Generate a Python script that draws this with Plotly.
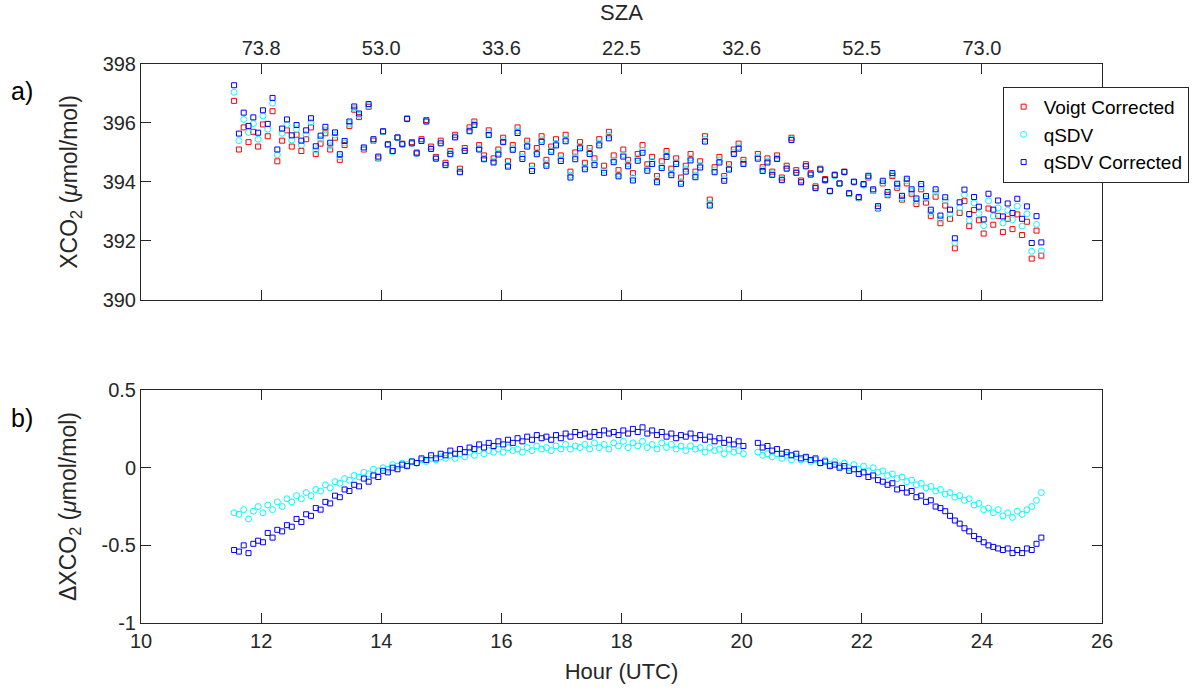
import plotly.graph_objects as go

hours = [
    11.55, 11.63, 11.71, 11.79, 11.87, 11.95, 12.03, 12.11, 12.19, 12.27,
    12.35, 12.43, 12.51, 12.59, 12.67, 12.75, 12.83, 12.91, 12.99, 13.07,
    13.15, 13.23, 13.31, 13.39, 13.47, 13.55, 13.63, 13.71, 13.79, 13.87,
    13.95, 14.03, 14.11, 14.19, 14.27, 14.35, 14.43, 14.51, 14.59, 14.67,
    14.75, 14.83, 14.91, 14.99, 15.07, 15.15, 15.23, 15.31, 15.39, 15.47,
    15.55, 15.63, 15.71, 15.79, 15.87, 15.95, 16.03, 16.11, 16.19, 16.27,
    16.35, 16.43, 16.51, 16.59, 16.67, 16.75, 16.83, 16.91, 16.99, 17.07,
    17.15, 17.23, 17.31, 17.39, 17.47, 17.55, 17.63, 17.71, 17.79, 17.87,
    17.95, 18.03, 18.11, 18.19, 18.27, 18.35, 18.43, 18.51, 18.59, 18.67,
    18.75, 18.83, 18.91, 18.99, 19.07, 19.15, 19.23, 19.31, 19.39, 19.47,
    19.55, 19.63, 19.71, 19.79, 19.87, 19.95, 20.03, 20.27, 20.35,
    20.43, 20.51, 20.59, 20.67, 20.75, 20.83, 20.91, 20.99, 21.07, 21.15,
    21.23, 21.31, 21.39, 21.47, 21.55, 21.63, 21.71, 21.79, 21.87, 21.95,
    22.03, 22.11, 22.19, 22.27, 22.35, 22.43, 22.51, 22.59, 22.67, 22.75,
    22.83, 22.91, 22.99, 23.07, 23.15, 23.23, 23.31, 23.39, 23.47, 23.55,
    23.63, 23.71, 23.79, 23.87, 23.95, 24.03, 24.11, 24.19, 24.27, 24.35,
    24.43, 24.51, 24.59, 24.67, 24.75, 24.83, 24.91, 24.99,
]

voigt_corrected = [
    396.75, 395.10, 395.85, 395.35, 395.70, 395.20, 395.95, 395.55, 396.40, 394.70,
    395.40, 395.75, 395.20, 395.60, 395.05, 395.45, 395.85, 394.95, 395.30, 395.65,
    395.10, 395.50, 394.75, 395.25, 395.90, 396.45, 396.20, 395.10, 396.55, 395.40,
    394.80, 395.70, 395.25, 395.05, 395.50, 395.30, 396.15, 395.35, 395.00, 395.45,
    396.10, 395.20, 394.85, 395.40, 394.65, 395.05, 395.60, 394.45, 395.15, 395.85,
    396.05, 395.25, 394.90, 395.75, 394.80, 395.10, 395.50, 394.70, 395.25, 395.85,
    394.95, 395.40, 394.55, 395.15, 395.55, 394.75, 395.20, 395.45, 394.90, 395.60,
    394.35, 395.00, 395.35, 394.65, 395.15, 394.80, 395.45, 394.55, 395.70, 394.90,
    394.40, 395.10, 394.75, 394.30, 394.95, 395.25, 394.60, 394.85, 394.20, 394.70,
    395.05, 394.45, 394.80, 394.15, 394.55, 394.95, 394.35, 394.70, 395.55, 393.40,
    394.50, 394.85, 394.20, 394.60, 395.10, 395.30, 394.75, 394.95, 394.50,
    394.80, 394.35, 394.90, 394.15, 394.55, 395.50, 394.40, 394.05, 394.60, 394.30,
    393.85, 394.45, 394.10, 393.70, 394.25, 393.95, 394.35, 393.60, 394.00, 393.45,
    393.90, 394.15, 393.70, 393.10, 393.95, 393.55, 394.20, 393.80, 393.40, 393.95,
    393.60, 393.25, 393.75, 393.30, 392.85, 393.50, 392.60, 393.20, 392.75, 391.75,
    392.95, 393.35, 392.50, 393.05, 392.70, 392.25, 393.10, 392.55, 392.85, 392.30,
    392.75, 392.40, 392.90, 392.20, 392.65, 391.40, 392.35, 391.50,
]

qsdv = [
    397.04, 395.40, 396.12, 395.68, 395.98, 395.45, 396.24, 395.79, 396.67, 394.92,
    395.65, 395.95, 395.42, 395.78, 395.25, 395.61, 396.03, 395.09, 395.45, 395.76,
    395.23, 395.59, 394.85, 395.32, 395.98, 396.50, 396.26, 395.13, 396.59, 395.41,
    394.82, 395.70, 395.26, 395.03, 395.49, 395.27, 396.13, 395.31, 394.97, 395.40,
    396.06, 395.14, 394.80, 395.33, 394.59, 394.97, 395.54, 394.36, 395.08, 395.75,
    395.97, 395.14, 394.81, 395.64, 394.70, 394.98, 395.40, 394.57, 395.14, 395.73,
    394.85, 395.27, 394.44, 395.01, 395.43, 394.62, 395.09, 395.31, 394.78, 395.45,
    394.23, 394.86, 395.22, 394.50, 395.03, 394.64, 395.32, 394.40, 395.58, 394.74,
    394.26, 394.93, 394.62, 394.14, 394.81, 395.08, 394.47, 394.70, 394.08, 394.54,
    394.92, 394.30, 394.68, 394.01, 394.44, 394.81, 394.23, 394.57, 395.45, 393.27,
    394.39, 394.73, 394.11, 394.48, 395.00, 395.19, 394.66, 394.85, 394.42,
    394.71, 394.28, 394.81, 394.09, 394.47, 395.45, 394.33, 394.00, 394.54, 394.26,
    393.80, 394.42, 394.05, 393.68, 394.21, 393.94, 394.32, 393.60, 393.98, 393.46,
    393.89, 394.17, 393.70, 393.13, 393.97, 393.60, 394.24, 393.87, 393.46, 394.04,
    393.68, 393.36, 393.85, 393.43, 392.97, 393.65, 392.74, 393.37, 392.91, 391.94,
    393.13, 393.56, 392.70, 393.29, 392.93, 392.52, 393.36, 392.84, 393.12, 392.61,
    393.04, 392.72, 393.18, 392.50, 392.92, 391.65, 392.56, 391.66,
]

qsdv_corrected = [
    397.28, 395.64, 396.35, 395.90, 396.19, 395.67, 396.43, 395.97, 396.85, 395.10,
    395.81, 396.12, 395.58, 395.93, 395.40, 395.75, 396.16, 395.21, 395.57, 395.87,
    395.33, 395.68, 394.94, 395.39, 396.05, 396.56, 396.32, 395.17, 396.64, 395.45,
    394.86, 395.72, 395.28, 395.05, 395.51, 395.28, 396.14, 395.31, 394.97, 395.39,
    396.05, 395.12, 394.79, 395.31, 394.57, 394.94, 395.51, 394.33, 395.05, 395.72,
    395.93, 395.10, 394.77, 395.59, 394.66, 394.93, 395.35, 394.52, 395.09, 395.66,
    394.78, 395.20, 394.37, 394.94, 395.36, 394.55, 395.02, 395.24, 394.71, 395.38,
    394.15, 394.77, 395.14, 394.43, 394.95, 394.57, 395.24, 394.31, 395.48, 394.67,
    394.19, 394.86, 394.53, 394.05, 394.72, 394.99, 394.38, 394.61, 393.99, 394.47,
    394.85, 394.23, 394.61, 393.94, 394.35, 394.73, 394.16, 394.49, 395.37, 393.20,
    394.33, 394.66, 394.04, 394.42, 394.95, 395.13, 394.61, 394.79, 394.37,
    394.66, 394.24, 394.78, 394.06, 394.45, 395.42, 394.31, 393.99, 394.53, 394.25,
    393.79, 394.42, 394.06, 393.69, 394.23, 393.95, 394.34, 393.62, 394.01, 393.49,
    393.93, 394.21, 393.75, 393.18, 394.04, 393.66, 394.30, 393.94, 393.53, 394.11,
    393.75, 393.44, 393.93, 393.52, 393.06, 393.75, 392.86, 393.48, 393.06, 392.09,
    393.31, 393.74, 392.91, 393.49, 393.16, 392.73, 393.60, 393.06, 393.37, 392.83,
    393.27, 392.95, 393.43, 392.75, 393.17, 391.93, 392.84, 391.95,
]

delta_qsdv = [
    -0.29, -0.30, -0.27, -0.33, -0.28, -0.25, -0.29, -0.24, -0.27, -0.22,
    -0.25, -0.20, -0.22, -0.18, -0.20, -0.16, -0.18, -0.14, -0.15, -0.11,
    -0.13, -0.09, -0.10, -0.07, -0.08, -0.05, -0.06, -0.03, -0.04, -0.01,
    -0.02, 0.00, -0.01, 0.02, 0.01, 0.03, 0.02, 0.04, 0.03, 0.05,
    0.04, 0.06, 0.05, 0.07, 0.06, 0.08, 0.06, 0.09, 0.07, 0.10,
    0.08, 0.11, 0.09, 0.11, 0.10, 0.12, 0.10, 0.13, 0.11, 0.12,
    0.10, 0.13, 0.11, 0.14, 0.12, 0.13, 0.11, 0.14, 0.12, 0.15,
    0.12, 0.14, 0.13, 0.15, 0.12, 0.16, 0.13, 0.15, 0.12, 0.16,
    0.14, 0.17, 0.13, 0.16, 0.14, 0.17, 0.13, 0.15, 0.12, 0.16,
    0.13, 0.15, 0.12, 0.14, 0.11, 0.14, 0.12, 0.13, 0.10, 0.13,
    0.11, 0.12, 0.09, 0.12, 0.10, 0.11, 0.09, 0.10, 0.08,
    0.09, 0.07, 0.09, 0.06, 0.08, 0.05, 0.07, 0.05, 0.06, 0.04,
    0.05, 0.03, 0.05, 0.02, 0.04, 0.01, 0.03, 0.00, 0.02, -0.01,
    0.01, -0.02, 0.00, -0.03, -0.02, -0.05, -0.04, -0.07, -0.06, -0.09,
    -0.08, -0.11, -0.10, -0.13, -0.12, -0.15, -0.14, -0.17, -0.16, -0.19,
    -0.18, -0.21, -0.20, -0.24, -0.23, -0.27, -0.26, -0.29, -0.27, -0.31,
    -0.29, -0.32, -0.28, -0.30, -0.27, -0.25, -0.21, -0.16,
]

delta_qsdv_corrected = [
    -0.53, -0.54, -0.50, -0.55, -0.49, -0.47, -0.48, -0.42, -0.45, -0.40,
    -0.41, -0.37, -0.38, -0.33, -0.35, -0.30, -0.31, -0.26, -0.27, -0.22,
    -0.23, -0.18, -0.19, -0.14, -0.15, -0.11, -0.12, -0.07, -0.09, -0.05,
    -0.06, -0.02, -0.03, 0.00, -0.01, 0.02, 0.01, 0.04, 0.03, 0.06,
    0.05, 0.08, 0.06, 0.09, 0.08, 0.11, 0.09, 0.12, 0.10, 0.13,
    0.12, 0.15, 0.13, 0.16, 0.14, 0.17, 0.15, 0.18, 0.16, 0.19,
    0.17, 0.20, 0.18, 0.21, 0.19, 0.20, 0.18, 0.21, 0.19, 0.22,
    0.20, 0.23, 0.21, 0.22, 0.20, 0.23, 0.21, 0.24, 0.22, 0.23,
    0.21, 0.24, 0.22, 0.25, 0.23, 0.26, 0.22, 0.24, 0.21, 0.23,
    0.20, 0.22, 0.19, 0.21, 0.20, 0.22, 0.19, 0.21, 0.18, 0.20,
    0.17, 0.19, 0.16, 0.18, 0.15, 0.17, 0.14, 0.16, 0.13,
    0.14, 0.11, 0.12, 0.09, 0.10, 0.08, 0.09, 0.06, 0.07, 0.05,
    0.06, 0.03, 0.04, 0.01, 0.02, 0.00, 0.01, -0.02, -0.01, -0.04,
    -0.03, -0.06, -0.05, -0.08, -0.09, -0.11, -0.10, -0.14, -0.13, -0.16,
    -0.15, -0.19, -0.18, -0.22, -0.21, -0.25, -0.26, -0.28, -0.31, -0.34,
    -0.36, -0.39, -0.41, -0.44, -0.46, -0.48, -0.50, -0.51, -0.52, -0.53,
    -0.52, -0.55, -0.53, -0.55, -0.52, -0.53, -0.49, -0.45,
]

hour_ticks = [10, 12, 14, 16, 18, 20, 22, 24, 26]
sza_tick_hours = [12, 14, 16, 18, 20, 22, 24]
sza_labels = ["73.8", "53.0", "33.6", "22.5", "32.6", "52.5", "73.0"]
xco2_ticks = [390, 392, 394, 396, 398]
delta_ticks = [-1, -0.5, 0, 0.5]
delta_tick_labels = ["-1", "-0.5", "0", "0.5"]

RED = "#FF0000"
CYAN = "#00FFFF"
BLUE = "#0000FF"
INK = "#262626"
FONT = "Liberation Sans, Arial, sans-serif"

fig = go.Figure()
fig.add_trace(go.Scatter(
    x=hours, y=voigt_corrected, mode="markers", name="Voigt Corrected",
    marker=dict(symbol="square-open", size=5, color=RED, line=dict(width=1, color=RED)),
    xaxis="x", yaxis="y"))
fig.add_trace(go.Scatter(
    x=hours, y=qsdv, mode="markers", name="qSDV",
    marker=dict(symbol="circle-open", size=6, color=CYAN, line=dict(width=1, color=CYAN)),
    xaxis="x", yaxis="y"))
fig.add_trace(go.Scatter(
    x=hours, y=qsdv_corrected, mode="markers", name="qSDV Corrected",
    marker=dict(symbol="square-open", size=5, color=BLUE, line=dict(width=1, color=BLUE)),
    xaxis="x", yaxis="y"))
fig.add_trace(go.Scatter(
    x=hours, y=delta_qsdv, mode="markers", name="qSDV", showlegend=False,
    marker=dict(symbol="circle-open", size=6, color=CYAN, line=dict(width=1, color=CYAN)),
    xaxis="x2", yaxis="y2"))
fig.add_trace(go.Scatter(
    x=hours, y=delta_qsdv_corrected, mode="markers", name="qSDV Corrected", showlegend=False,
    marker=dict(symbol="square-open", size=5, color=BLUE, line=dict(width=1, color=BLUE)),
    xaxis="x2", yaxis="y2"))

axis_common = dict(
    showline=True, linecolor=INK, linewidth=1, ticks="inside", ticklen=10,
    tickwidth=1, tickcolor=INK, mirror="ticks", showgrid=False, zeroline=False,
    tickfont=dict(family=FONT, size=20, color=INK),
)

fig.update_layout(
    width=1201, height=691, autosize=False,
    margin=dict(l=141, r=93, t=59, b=68),
    paper_bgcolor="white", plot_bgcolor="white",
    font=dict(family=FONT, color=INK),
    xaxis=dict(domain=[0, 1], anchor="y", range=[10, 26], side="top",
               tickmode="array", tickvals=sza_tick_hours, ticktext=sza_labels,
               title=dict(text="SZA", font=dict(family=FONT, size=22, color=INK), standoff=10),
               **axis_common),
    yaxis=dict(domain=[0.578, 1], anchor="x", range=[390, 398],
               tickmode="array", tickvals=xco2_ticks,
               title=dict(text="XCO<sub>2</sub> (<i>μ</i>mol/mol)",
                          font=dict(family=FONT, size=23, color=INK), standoff=18),
               **axis_common),
    xaxis2=dict(domain=[0, 1], anchor="y2", range=[10, 26],
                tickmode="array", tickvals=hour_ticks,
                title=dict(text="Hour (UTC)", font=dict(family=FONT, size=22, color=INK), standoff=12),
                **axis_common),
    yaxis2=dict(domain=[0, 0.4167], anchor="x2", range=[-1, 0.5],
                tickmode="array", tickvals=delta_ticks, ticktext=delta_tick_labels,
                title=dict(text="ΔXCO<sub>2</sub> (<i>μ</i>mol/mol)",
                           font=dict(family=FONT, size=23, color=INK), standoff=18),
                **axis_common),
    legend=dict(x=0.8966, y=0.9592, xanchor="left", yanchor="top",
                bgcolor="white", bordercolor=INK, borderwidth=1,
                font=dict(family=FONT, size=19, color="black"), tracegroupgap=0),
    annotations=[
        dict(text="a)", x=-0.1375, y=0.952, xref="paper", yref="paper",
             xanchor="left", yanchor="middle", showarrow=False,
             font=dict(family=FONT, size=25, color="black")),
        dict(text="b)", x=-0.1375, y=0.367, xref="paper", yref="paper",
             xanchor="left", yanchor="middle", showarrow=False,
             font=dict(family=FONT, size=25, color="black")),
    ],
)

fig.write_html("out.html")
